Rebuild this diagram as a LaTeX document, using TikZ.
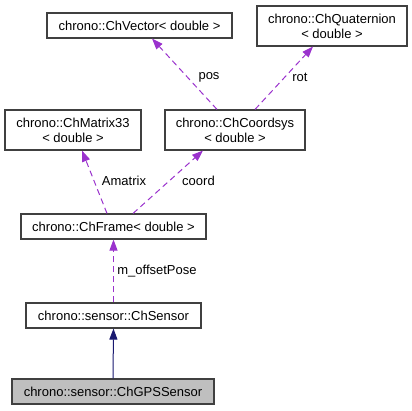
\documentclass[tikz,border=0pt]{standalone}
\usepackage{fontspec}
\setmainfont{Liberation Sans}
\usetikzlibrary{arrows.meta}
\definecolor{edgepurple}{HTML}{9A32CD}
\definecolor{edgenavy}{HTML}{191970}
\definecolor{boxgray}{HTML}{BFBFBF}
\definecolor{boxline}{HTML}{404040}
\begin{document}
\begin{tikzpicture}[x=1pt,y=-1pt,
  box/.style={draw=boxline, line width=1.1pt, inner sep=0pt, align=center,
    font=\fontsize{13pt}{15pt}\selectfont, text=black},
  lbl/.style={inner sep=0pt, font=\fontsize{13pt}{15pt}\selectfont, text=black},
  dep/.style={draw=edgepurple, line width=1pt, dash pattern=on 6pt off 4pt,
    -{Triangle[length=11pt,width=8pt,fill=edgepurple]}},
  inh/.style={draw=edgenavy, line width=1pt,
    -{Triangle[length=11pt,width=8pt,fill=edgenavy]}}]
\useasboundingbox (0,0) rectangle (412,411);
% boxes
\node[box, minimum width=185pt, minimum height=25pt] (vec) at (139.5,25.5) {chrono::ChVector< double >};
\node[box, minimum width=150pt, minimum height=40pt] (quat) at (332,26) {chrono::ChQuaternion\\< double >};
\node[box, minimum width=136pt, minimum height=40pt] (mat) at (73,130) {chrono::ChMatrix33\\< double >};
\node[box, minimum width=140pt, minimum height=40pt] (cs) at (235,130) {chrono::ChCoordsys\\< double >};
\node[box, minimum width=185pt, minimum height=25pt] (frame) at (113.5,226.5) {chrono::ChFrame< double >};
\node[box, minimum width=175pt, minimum height=25pt] (sensor) at (113.5,315.5) {chrono::sensor::ChSensor};
\node[box, fill=boxgray, minimum width=202pt, minimum height=25pt] (gps) at (113,391.5) {chrono::sensor::ChGPSSensor};
% edges
\draw[dep] ([xshift=-18pt]cs.north) -- ([xshift=12.5pt]vec.south);
\draw[dep] ([xshift=20pt]cs.north) -- ([xshift=-19pt]quat.south);
\draw[dep] ([xshift=-6.5pt]frame.north) -- ([xshift=9pt]mat.south);
\draw[dep] ([xshift=19.5pt]frame.north) -- ([xshift=-32pt]cs.south);
\draw[dep] (sensor.north) -- (frame.south);
\draw[inh] (gps.north) -- (sensor.south);
% labels
\node[lbl] (lpos) at (209,77) {pos};
\node[lbl] (lrot) at (300,77) {rot};
\node[lbl] (lamat) at (124,181) {Amatrix};
\node[lbl] (lcoord) at (198.5,181) {coord};
\node[lbl] (loff) at (157,271) {m\_offsetPose};
\end{tikzpicture}
\end{document}
